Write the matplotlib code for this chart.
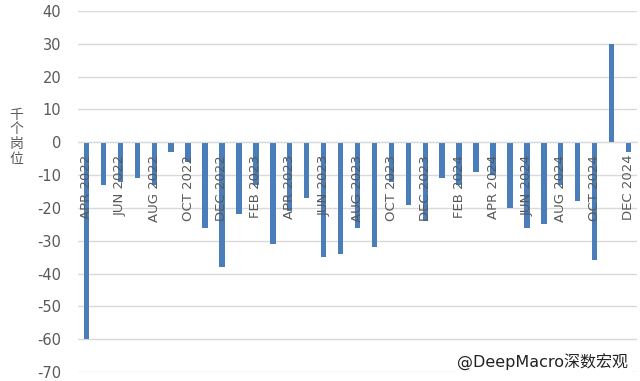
import matplotlib
matplotlib.use("Agg")
import matplotlib.pyplot as plt

# Monthly payroll change, thousand jobs, Apr 2022 - Dec 2024
months = ["APR 2022", "MAY 2022", "JUN 2022", "JUL 2022", "AUG 2022", "SEP 2022",
          "OCT 2022", "NOV 2022", "DEC 2022", "JAN 2023", "FEB 2023", "MAR 2023",
          "APR 2023", "MAY 2023", "JUN 2023", "JUL 2023", "AUG 2023", "SEP 2023",
          "OCT 2023", "NOV 2023", "DEC 2023", "JAN 2024", "FEB 2024", "MAR 2024",
          "APR 2024", "MAY 2024", "JUN 2024", "JUL 2024", "AUG 2024", "SEP 2024",
          "OCT 2024", "NOV 2024", "DEC 2024"]
values = [-60, -13, -12, -11, -13, -3,
          -6, -26, -38, -22, -13, -31,
          -21, -17, -35, -34, -26, -32,
          -12, -19, -24, -11, -13, -9,
          -10, -20, -26, -25, -13, -18,
          -36, 30, -3]
yticks = list(range(-70, 41, 10))
unit_label = "千个岗位"

grey = "#595959"
bar_color = "#4a7ebb"

fig = plt.figure(figsize=(6.4, 3.81), dpi=100)
ax = fig.add_axes([0.1219, 0.0236, 0.8734, 0.9475])

# axis line at zero (do this before touching tick labels, it resets them)
for s in ["top", "right", "left"]:
    ax.spines[s].set_visible(False)
ax.spines["bottom"].set_position(("data", 0))
ax.spines["bottom"].set_color("#d9d9d9")

x = list(range(len(months)))
ax.bar(x, values, width=0.32, color=bar_color, zorder=2)

ax.set_xlim(-0.5, len(months) - 0.5)
ax.set_ylim(-70, 40)
ax.set_yticks(yticks)
ax.set_yticklabels([str(t) for t in yticks])

# only every other month gets a label
ax.set_xticks(x[::2])
ax.set_xticklabels(months[::2])

ax.tick_params(axis="x", length=0, pad=9, labelrotation=90, labelsize=9.5, labelcolor=grey)
ax.tick_params(axis="y", length=0, pad=12, labelsize=10.5, labelcolor=grey)

ax.yaxis.grid(True, color="#d9d9d9", linewidth=1)
ax.set_axisbelow(True)
ax.xaxis.set_zorder(3)  # labels sit on top of the bars

# stacked upright characters for the unit label
for i, ch in enumerate(unit_label):
    fig.text(0.026, 1 - (115 + i * 14.5) / 381, ch, fontsize=10, color=grey,
             family=["Noto Sans CJK SC", "DejaVu Sans"], ha="center", va="center")

fig.text(0.982, 0.048, "@DeepMacro深数宏观", fontsize=11.5, color="#222222",
         family=["DejaVu Sans", "Noto Sans CJK SC"], ha="right", va="center",
         bbox=dict(facecolor="white", edgecolor="none", pad=1.5))

fig.savefig("out.png", dpi=100)
